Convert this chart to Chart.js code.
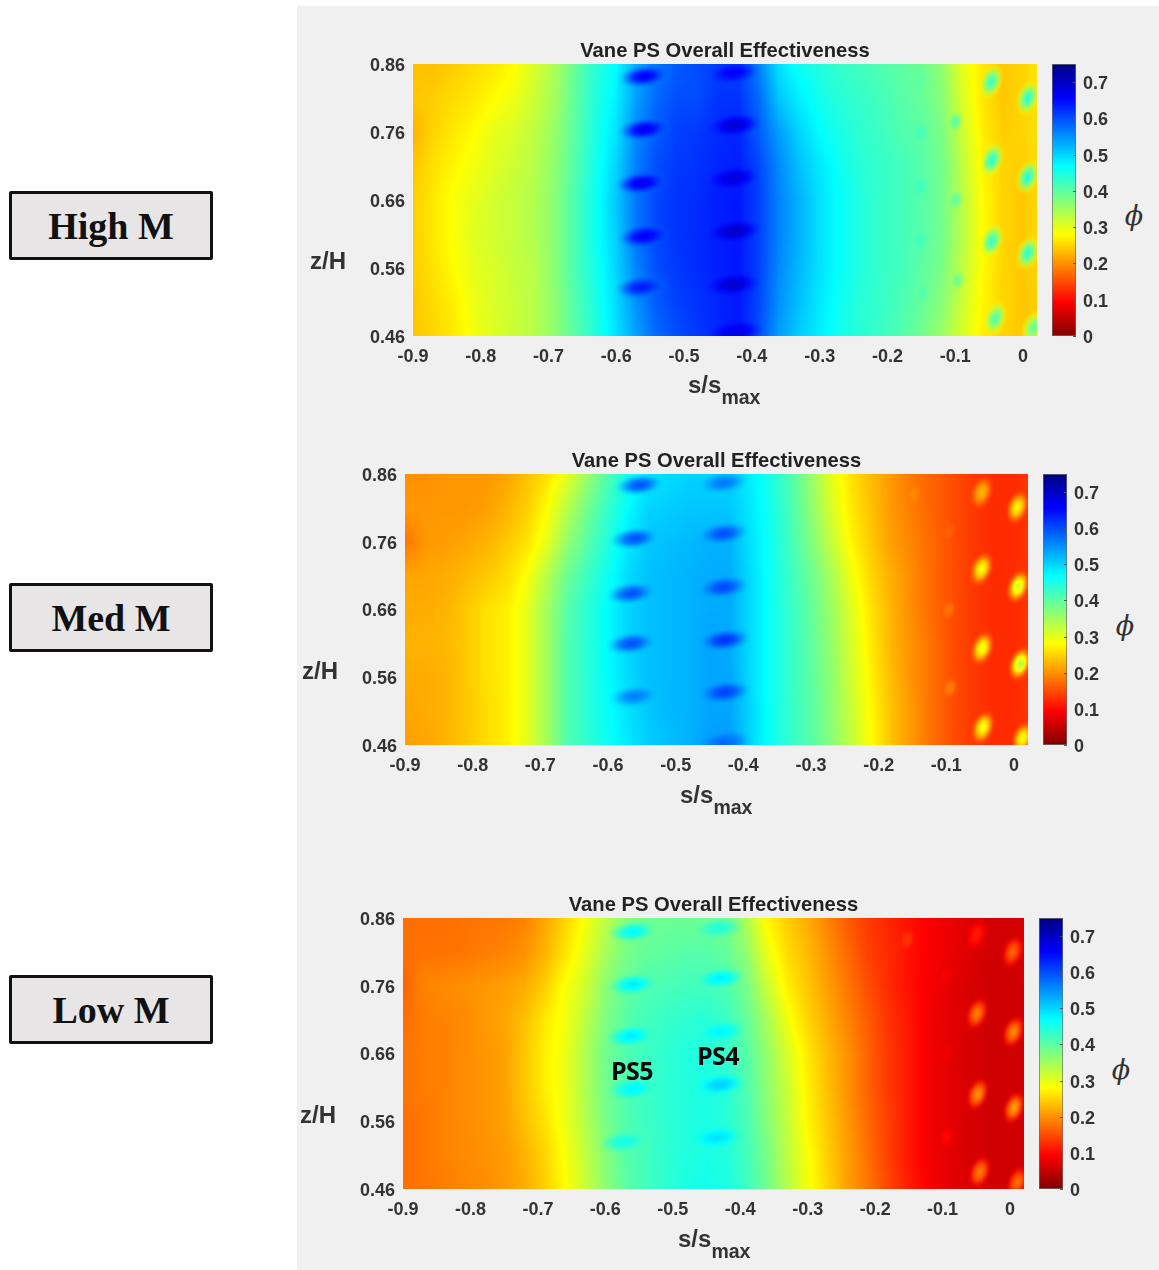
<!DOCTYPE html>
<html><head><meta charset="utf-8">
<script src="https://cdn.jsdelivr.net/npm/chart.js@4"></script>
<style>
html,body{margin:0;padding:0;background:#fff;width:1159px;height:1270px;overflow:hidden}
#bg{position:absolute;left:297px;top:6px;width:862px;height:1264px;background:#f0f0f0}
canvas{position:absolute;filter:blur(.4px)}
.t{position:absolute;white-space:nowrap;font-family:"Liberation Sans",Arial,sans-serif;font-weight:bold;color:#333;transform:translate(-50%,-50%)}
.axis{font-size:24px;line-height:26px}
.sx{font-size:24px;line-height:26px;transform:none}
.sx span{font-size:19.5px;position:relative;top:11px;left:0px}
.phi{font-family:"DejaVu Serif",serif;font-style:italic;font-weight:normal;font-size:27px}
.box{position:absolute;left:9px;width:198px;height:63px;border:3px solid #111;border-radius:2px;background:#e7e5e6;font-family:"Liberation Serif",serif;font-weight:bold;font-size:38px;line-height:65px;text-align:center;color:#111}
.ps{font-family:"Open Sans",sans-serif;font-size:25px;color:#0a0a0a;letter-spacing:-.6px}
</style></head><body><div id="bg"></div>
<script>
const xTicks=[-0.9,-0.8,-0.7,-0.6,-0.5,-0.4,-0.3,-0.2,-0.1,0];
const yTicks=[0.46,0.56,0.66,0.76,0.86];
const barTicks=[0,0.1,0.2,0.3,0.4,0.5,0.6,0.7];
const sGrid=[-.90,-.87,-.84,-.81,-.78,-.75,-.72,-.69,-.66,-.63,-.60,-.57,-.54,-.51,-.48,-.45,-.42,-.39,-.36,-.33,-.30,-.27,-.24,-.21,-.18,-.15,-.12,-.09,-.06,-.03,0,.03];
const zGrid=[.86,.81,.76,.71,.66,.61,.56,.51,.46];

const highField=[
[.235,.235,.245,.255,.265,.28,.31,.345,.395,.44,.47,.53,.57,.59,.60,.61,.61,.56,.49,.46,.445,.43,.42,.41,.40,.39,.365,.30,.265,.24,.25,.27],
[.24,.245,.255,.265,.28,.295,.32,.35,.40,.445,.48,.54,.58,.60,.60,.62,.62,.58,.51,.48,.455,.44,.43,.42,.405,.395,.37,.31,.265,.24,.25,.265],
[.225,.25,.265,.28,.30,.31,.33,.36,.405,.45,.49,.555,.59,.61,.615,.625,.63,.59,.54,.50,.47,.45,.435,.425,.41,.40,.38,.32,.27,.245,.25,.265],
[.24,.26,.275,.29,.305,.32,.335,.365,.41,.455,.50,.565,.60,.615,.62,.63,.635,.605,.555,.515,.485,.46,.44,.43,.42,.405,.385,.33,.275,.25,.245,.26],
[.245,.265,.285,.30,.315,.325,.34,.37,.415,.46,.51,.57,.605,.62,.625,.635,.64,.61,.56,.525,.49,.465,.445,.43,.42,.405,.385,.335,.28,.25,.24,.26],
[.245,.265,.285,.305,.315,.325,.34,.37,.415,.46,.505,.57,.605,.62,.625,.635,.64,.61,.56,.525,.49,.465,.445,.43,.42,.405,.385,.335,.28,.25,.24,.26],
[.245,.26,.28,.30,.31,.325,.335,.37,.415,.455,.50,.56,.60,.615,.625,.635,.64,.61,.555,.52,.49,.465,.445,.43,.42,.40,.38,.33,.28,.25,.24,.255],
[.24,.255,.27,.295,.31,.32,.335,.365,.41,.45,.495,.55,.59,.61,.62,.63,.64,.605,.55,.515,.485,.46,.44,.43,.415,.395,.37,.32,.275,.25,.24,.25],
[.24,.25,.265,.29,.305,.32,.335,.365,.405,.445,.49,.54,.58,.60,.615,.63,.64,.60,.54,.505,.48,.455,.44,.425,.41,.385,.355,.31,.27,.25,.24,.25]];
const medField=[
[.20,.20,.205,.205,.205,.215,.235,.26,.30,.355,.41,.455,.485,.495,.50,.50,.50,.48,.45,.41,.36,.30,.26,.23,.205,.18,.165,.15,.135,.125,.125,.135],
[.205,.205,.205,.205,.21,.225,.245,.28,.335,.385,.43,.47,.50,.505,.51,.51,.51,.485,.455,.415,.365,.31,.265,.235,.205,.185,.165,.15,.135,.125,.125,.135],
[.18,.205,.21,.215,.225,.24,.26,.30,.36,.405,.445,.485,.51,.515,.52,.525,.525,.49,.46,.42,.375,.325,.275,.24,.21,.19,.17,.15,.135,.125,.125,.135],
[.215,.215,.22,.23,.24,.255,.285,.335,.39,.425,.46,.495,.515,.52,.525,.53,.53,.495,.46,.425,.39,.345,.29,.25,.22,.195,.17,.15,.135,.125,.125,.135],
[.22,.22,.225,.24,.26,.27,.30,.35,.405,.44,.47,.50,.515,.52,.525,.53,.53,.495,.46,.43,.395,.355,.305,.26,.225,.195,.17,.15,.135,.125,.125,.135],
[.225,.225,.23,.24,.26,.27,.30,.35,.41,.44,.47,.50,.515,.52,.525,.535,.53,.495,.46,.43,.40,.36,.31,.265,.225,.20,.175,.15,.135,.125,.125,.135],
[.22,.22,.225,.24,.26,.27,.30,.35,.41,.44,.47,.495,.515,.52,.525,.535,.535,.495,.46,.43,.40,.365,.315,.27,.23,.20,.175,.15,.135,.125,.125,.135],
[.215,.22,.225,.24,.255,.27,.30,.35,.41,.44,.465,.49,.51,.52,.525,.535,.535,.50,.46,.43,.405,.365,.32,.275,.235,.205,.175,.15,.135,.125,.125,.135],
[.21,.215,.225,.24,.255,.27,.30,.35,.41,.435,.46,.485,.505,.515,.525,.54,.54,.50,.46,.43,.405,.37,.325,.28,.235,.205,.175,.15,.135,.125,.125,.135]];
const lowField=[
[.175,.175,.175,.178,.18,.182,.19,.215,.25,.285,.33,.37,.385,.39,.39,.39,.385,.34,.275,.245,.22,.19,.16,.135,.12,.105,.09,.08,.07,.062,.062,.065],
[.175,.178,.178,.18,.185,.19,.2,.225,.26,.30,.345,.38,.395,.40,.405,.405,.395,.36,.295,.255,.23,.20,.17,.14,.125,.105,.09,.08,.07,.06,.06,.065],
[.165,.19,.195,.20,.205,.21,.22,.245,.285,.315,.365,.395,.41,.415,.42,.42,.41,.38,.32,.27,.24,.21,.18,.15,.125,.105,.088,.075,.065,.058,.058,.062],
[.175,.185,.19,.195,.205,.215,.235,.265,.29,.33,.375,.405,.42,.43,.435,.44,.425,.395,.345,.29,.25,.22,.19,.16,.13,.11,.085,.075,.065,.058,.058,.06],
[.18,.185,.19,.197,.203,.212,.24,.27,.295,.34,.385,.41,.425,.435,.445,.445,.43,.405,.36,.31,.265,.23,.20,.165,.135,.11,.085,.075,.065,.058,.058,.06],
[.18,.185,.19,.197,.203,.212,.24,.27,.295,.34,.385,.41,.425,.435,.445,.45,.44,.41,.365,.32,.27,.235,.20,.165,.135,.11,.085,.075,.065,.058,.058,.06],
[.175,.18,.19,.197,.203,.21,.235,.26,.295,.335,.38,.41,.425,.435,.445,.45,.44,.415,.37,.325,.275,.24,.205,.17,.14,.11,.085,.075,.065,.058,.058,.06],
[.175,.18,.19,.195,.2,.207,.225,.25,.285,.325,.37,.405,.42,.435,.445,.45,.445,.42,.38,.33,.285,.245,.21,.175,.14,.11,.085,.075,.065,.058,.058,.06],
[.175,.18,.185,.192,.197,.205,.22,.245,.28,.32,.365,.40,.42,.435,.45,.455,.45,.425,.385,.335,.29,.25,.21,.18,.145,.115,.09,.075,.065,.058,.058,.06]];

// [s/smax, z/H, phi] of the local cooling-hole footprints
const highBand=[[-.558,.842,.665],[-.558,.764,.67],[-.562,.685,.675],[-.558,.607,.665],[-.562,.532,.64],[-.428,.847,.66],[-.426,.77,.69],[-.428,.692,.685],[-.426,.614,.70],[-.428,.536,.695],[-.424,.466,.675]];
const highEdge=[[-.047,.834,.43],[-.046,.719,.44],[-.046,.60,.43],[-.041,.486,.41],[.007,.81,.44],[.007,.694,.45],[.007,.582,.44],[.015,.472,.40]];
const highFaint=[[-.10,.775,.405],[-.10,.66,.40],[-.097,.542,.39],[-.152,.834,.40],[-.152,.759,.42],[-.152,.68,.425],[-.152,.60,.425],[-.15,.523,.41]];
const medBand=[[-.553,.844,.60],[-.56,.765,.60],[-.565,.684,.60],[-.565,.61,.60],[-.56,.532,.565],[-.43,.847,.57],[-.43,.772,.60],[-.43,.693,.605],[-.428,.615,.625],[-.428,.538,.61],[-.428,.464,.58]];
const medEdge=[[-.048,.833,.23],[-.048,.72,.29],[-.047,.603,.30],[-.046,.486,.295],[.005,.811,.28],[.006,.694,.32],[.009,.58,.34],[.013,.47,.29]];
const medFaint=[[-.097,.775,.165],[-.097,.659,.18],[-.095,.544,.19],[-.149,.83,.195]];
const lowBand=[[-.559,.84,.475],[-.559,.762,.485],[-.562,.686,.485],[-.559,.608,.475],[-.571,.53,.455],[-.433,.845,.445],[-.43,.771,.48],[-.43,.692,.475],[-.43,.614,.505],[-.435,.536,.49]];
const lowEdge=[[-.05,.835,.115],[-.049,.719,.19],[-.048,.60,.205],[-.045,.485,.19],[.004,.81,.17],[.005,.692,.20],[.006,.58,.215],[.011,.47,.18]];
const lowFaint=[[-.094,.537,.10],[-.095,.66,.085],[-.153,.828,.135],[-.096,.775,.09]];

const panels=[
 {name:'High M',box:191,L:413,R:1037,T:64,B:336,CL:1052,CR:1076,field:highField,band:highBand,edge:highEdge,faint:highFaint},
 {name:'Med M',box:583,L:405,R:1028,T:474,B:745,CL:1043,CR:1067,field:medField,band:medBand,edge:medEdge,faint:medFaint},
 {name:'Low M',box:975,L:403,R:1024,T:918,B:1189,CL:1039,CR:1063,field:lowField,band:lowBand,edge:lowEdge,faint:lowFaint}];

const PHI_MAX=0.75, S_MIN=-0.9, S_MAX=0.0207, Z_MIN=0.46, Z_MAX=0.86;
const clamp=v=>Math.max(0,Math.min(1,v));
function jet(phi){const t=1-phi/PHI_MAX;return [clamp(Math.min(4*t-1.5,-4*t+4.5)),clamp(Math.min(4*t-.5,-4*t+3.5)),clamp(Math.min(4*t+.5,-4*t+2.5))].map(c=>Math.round(c*255));}
function fieldAt(f,s,z){
 let i=0;while(i<sGrid.length-2&&s>sGrid[i+1])i++;
 let j=0;while(j<zGrid.length-2&&z<zGrid[j+1])j++;
 const a=clamp((s-sGrid[i])/(sGrid[i+1]-sGrid[i])),b=clamp((zGrid[j]-z)/(zGrid[j]-zGrid[j+1]));
 return (f[j][i]*(1-a)+f[j][i+1]*a)*(1-b)+(f[j+1][i]*(1-a)+f[j+1][i+1]*a)*b;
}
function sprite(phi,base,rx,ry){
 const m=Math.ceil(Math.max(rx,ry))*2+2,c=document.createElement('canvas');c.width=c.height=m;
 const x=c.getContext('2d');x.translate(m/2,m/2);x.scale(rx,ry);
 const g=x.createRadialGradient(0,0,0,0,0,1);
 for(let k=0;k<=16;k++){const r=k/16,col=jet(phi+(base-phi)*Math.pow(r,1.2)),u=clamp((1-r)/.7),al=u*u*(3-2*u);
  g.addColorStop(r,`rgba(${col[0]},${col[1]},${col[2]},${al})`);}
 x.fillStyle=g;x.beginPath();x.arc(0,0,1,0,Math.PI*2);x.fill();return c;
}
const shapes={band:{rx:29,ry:13,rot:-7},edge:{rx:13,ry:21,rot:20},faint:{rx:9,ry:13,rot:15}};
function spotDataset(label,list,field,shape){
 const sp=list.map(h=>sprite(h[2],fieldAt(field,h[0],h[1]),shape.rx,shape.ry));
 return {label,data:list.map(h=>({x:h[0],y:h[1],phi:h[2]})),pointStyle:c=>sp[c.dataIndex]||'circle',pointRotation:shape.rot,pointRadius:2,clip:0};
}
const fieldPlugin=f=>({id:'phiField',beforeDatasetsDraw(chart){
 const a=chart.chartArea,xs=chart.scales.x,ys=chart.scales.y,ctx=chart.ctx;
 const l=Math.round(a.left),t=Math.round(a.top),w=Math.round(a.right)-l,h=Math.round(a.bottom)-t;
 const img=ctx.createImageData(w,h);let p=0;
 for(let py=0;py<h;py++){const z=ys.getValueForPixel(t+py+.5);
  for(let px=0;px<w;px++){const c=jet(fieldAt(f,xs.getValueForPixel(l+px+.5),z));
   img.data[p++]=c[0];img.data[p++]=c[1];img.data[p++]=c[2];img.data[p++]=255;}}
 ctx.putImageData(img,l,t);
}});
const barTickPlugin={id:'barTicks',afterDatasetsDraw(chart){
 const y=chart.scales.y,a=chart.chartArea,ctx=chart.ctx;ctx.save();ctx.strokeStyle='#555';ctx.lineWidth=1;
 barTicks.forEach(v=>{const p=Math.round(y.getPixelForValue(v))+.5;ctx.beginPath();ctx.moveTo(a.right-3,p);ctx.lineTo(a.right,p);ctx.stroke();});ctx.restore();
}};
const tickFont={family:'"Liberation Sans",Arial,sans-serif',weight:'bold',size:18};
const PAD={left:70,right:20,top:34,bottom:36};

function addCanvas(l,t,w,h){const c=document.createElement('canvas');c.width=w;c.height=h;c.style.cssText=`left:${l}px;top:${t}px;width:${w}px;height:${h}px`;document.body.appendChild(c);return c;}
function addText(html,x,y,cls){const d=document.createElement('div');d.className='t '+cls;d.innerHTML=html;d.style.left=x+'px';d.style.top=y+'px';document.body.appendChild(d);return d;}

panels.forEach(p=>{
 const W=p.R-p.L+PAD.left+PAD.right,H=p.B-p.T+PAD.top+PAD.bottom;
 const cv=addCanvas(p.L-PAD.left,p.T-PAD.top,W,H);
 const pts=[];zGrid.forEach((z,j)=>sGrid.forEach((s,i)=>pts.push({x:s,y:z,phi:p.field[j][i]})));
 new Chart(cv,{type:'scatter',
  data:{datasets:[
   {label:'phi field',data:pts,pointRadius:0},
   spotDataset('PS4 and PS5 holes',p.band,p.field,shapes.band),
   spotDataset('Edge holes',p.edge,p.field,shapes.edge),
   spotDataset('Faint holes',p.faint,p.field,shapes.faint)]},
  options:{responsive:false,animation:false,events:[],devicePixelRatio:1,
   layout:{padding:{right:PAD.right}},
   plugins:{legend:{display:false},tooltip:{enabled:false},
    title:{display:true,text:'Vane PS Overall Effectiveness',fullSize:false,color:'#222',
     font:{family:'"Liberation Sans",Arial,sans-serif',weight:'bold',size:20.2,lineHeight:1.2},padding:{top:9,bottom:0.8}}},
   scales:{
    x:{type:'linear',min:S_MIN,max:S_MAX,grid:{display:false,drawTicks:false},border:{display:false},
     afterBuildTicks:s=>{s.ticks=xTicks.map(v=>({value:v}));},
     afterFit:s=>{s.height=PAD.bottom;},
     ticks:{color:'#333',font:tickFont,padding:10,maxRotation:0,autoSkip:false,callback:v=>String(v)}},
    y:{type:'linear',min:Z_MIN,max:Z_MAX,grid:{display:false,drawTicks:false},border:{display:false},
     afterBuildTicks:s=>{s.ticks=yTicks.map(v=>({value:v}));},
     afterFit:s=>{s.width=PAD.left;},
     ticks:{color:'#333',font:tickFont,padding:8,labelOffset:2,autoSkip:false,callback:v=>v.toFixed(2)}}}},
  plugins:[fieldPlugin(p.field)]});

 const cbCv=addCanvas(p.CL,p.T-12,p.CR-p.CL+44,p.B-p.T+24);
 new Chart(cbCv,{type:'bar',
  data:{labels:['phi'],datasets:[{label:'colour bar',data:[[0,PHI_MAX]],barPercentage:1,categoryPercentage:1,borderWidth:1,borderColor:'#6b6b6b',borderSkipped:false,
   backgroundColor:c=>{const ch=c.chart;if(!ch.chartArea)return '#888';const y=ch.scales.y,g=ch.ctx.createLinearGradient(0,y.getPixelForValue(0),0,y.getPixelForValue(PHI_MAX));
     [0,.09375,.28125,.46875,.65625,.75].forEach(v=>{const k=jet(v);g.addColorStop(v/PHI_MAX,`rgb(${k})`);});return g;}}]},
  options:{responsive:false,animation:false,events:[],devicePixelRatio:1,
   layout:{padding:{top:12,bottom:12}},
   plugins:{legend:{display:false},tooltip:{enabled:false}},
   scales:{x:{display:false},
    y:{position:'right',min:0,max:PHI_MAX,grid:{display:false,drawTicks:false},border:{display:false},
     afterBuildTicks:s=>{s.ticks=barTicks.map(v=>({value:v}));},
     afterFit:s=>{s.width=44;s.paddingTop=0;s.paddingBottom=0;},
     ticks:{color:'#333',font:tickFont,padding:7,labelOffset:2,autoSkip:false,callback:v=>String(v)}}}},
  plugins:[barTickPlugin]});

 addText('z/H',p.L-85,p.T+197,'axis');
 addText('s/s<span>max</span>',p.L+275,p.T+308,'sx');
 addText('&#981;',p.CR+58,p.T+151,'phi');
 const b=document.createElement('div');b.className='box';b.textContent=p.name;b.style.top=p.box+'px';document.body.appendChild(b);
});
addText('PS5',632,1070,'ps');
addText('PS4',718,1055,'ps');
</script></body></html>
